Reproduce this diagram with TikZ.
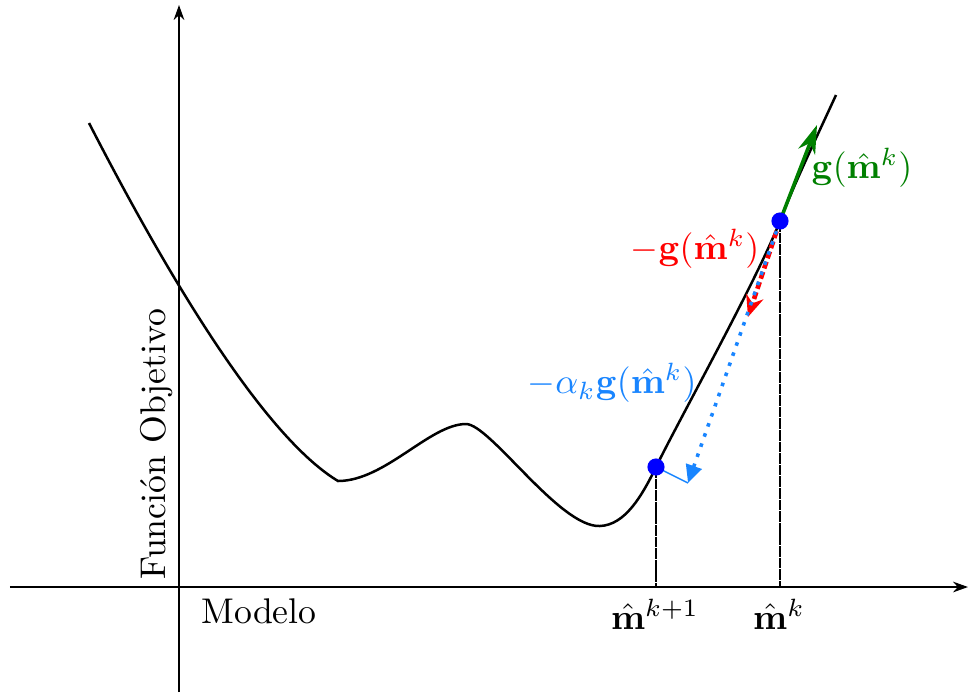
\documentclass[tikz,border=0pt]{standalone}
\usepackage{amsmath}
\usetikzlibrary{arrows.meta}
\definecolor{gcol}{rgb}{0,0.5,0}
\definecolor{acol}{rgb}{0.1,0.52,1}
\begin{document}
\begin{tikzpicture}[x=0.28pt,y=-0.28pt,
  axis/.style={line width=0.4pt,-{Stealth[length=4.2pt,width=3pt]}},
  curve/.style={line width=0.7pt},
  dot/.style={circle,fill=blue,inner sep=0pt,minimum size=4.8pt},
  guide/.style={line width=0.4pt,dash pattern=on 3pt off 0.25pt},
  lbl/.style={inner sep=1pt}]
\useasboundingbox (0,0) rectangle (968,692);
% axes
\coordinate (xa) at (10,587);
\coordinate (xb) at (968,587);
\coordinate (ya) at (179,692);
\coordinate (yb) at (179,5);
\draw[axis] (xa) -- (xb);
\draw[axis] (ya) -- (yb);
% curve
\draw[curve] (89,123) .. controls (180,300) and (270,440) .. (338,481)
  .. controls (385,481) and (430,424) .. (466,424)
  .. controls (490,424) and (560,528) .. (600,526)
  .. controls (625,525) and (642,496) .. (656,467)
  .. controls (680,418) and (756,282) .. (780,221)
  .. controls (794,184) and (820,130) .. (836,95);
% points
\coordinate (mk) at (780,221);
\coordinate (mk1) at (656,467);
\coordinate (mkx) at (780,587);
\coordinate (mk1x) at (656,587);
\draw[guide] (mk) -- (mkx);
\draw[guide] (mk1) -- (mk1x);
% gradient arrows
\coordinate (gend) at (817,125);
\coordinate (rend) at (748,317);
\coordinate (bend) at (688,483);
\draw[gcol,line width=1pt,-{Stealth[length=8pt,width=5pt]}] (mk) -- (gend);
\draw[red,line width=1.3pt,dash pattern=on 2pt off 1pt,-{Stealth[length=6pt,width=5pt]}] (mk) -- (rend);
\draw[acol,line width=1pt,dotted,-{Triangle[length=5pt,width=4.5pt]}] (mk) -- (bend);
\draw[acol,line width=0.4pt] (mk1) -- (bend);
\node[dot] (pk) at (mk) {};
\node[dot] (pk1) at (mk1) {};
% labels
\node[lbl,gcol] (lg) at (862,168) {$\mathbf{g}(\hat{\mathbf{m}}^k)$};
\node[lbl,red] (lr) at (695,249) {$-\mathbf{g}(\hat{\mathbf{m}}^k)$};
\node[lbl,acol] (la) at (612,383) {$-\alpha_k\mathbf{g}(\hat{\mathbf{m}}^k)$};
\node[lbl] (l1) at (655,614) {$\hat{\mathbf{m}}^{k+1}$};
\node[lbl] (l2) at (779,614) {$\hat{\mathbf{m}}^{k}$};
\node[lbl] (mod) at (259,611) {Modelo};
\node[lbl,rotate=90] (fo) at (157,444) {Función Objetivo};
\end{tikzpicture}
\end{document}
